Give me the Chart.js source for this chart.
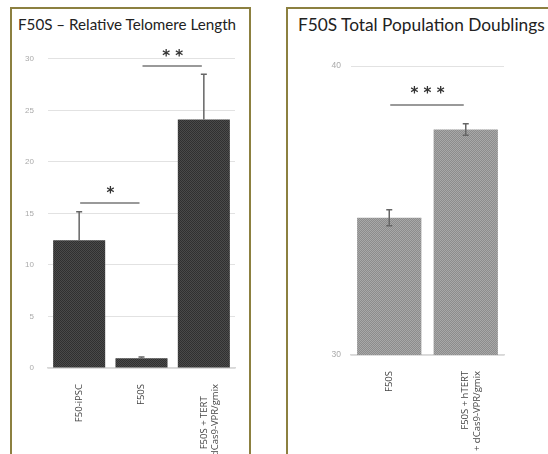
<!DOCTYPE html>
<html>
<head>
<meta charset="utf-8">
<script src="https://cdn.jsdelivr.net/npm/chart.js@4"></script>
<style>
  body { margin: 0; background: #fff; width: 548px; height: 454px; overflow: hidden; position: relative; font-family: Lato, "Open Sans", sans-serif; }
  .panel { position: absolute; border: 2px solid #8c8040; border-bottom: none; box-sizing: border-box; }
  .title { position: absolute; color: #222; white-space: nowrap; }
  canvas { position: absolute; }
</style>
</head>
<body>
<div class="panel" style="left:10px;top:7px;width:241px;height:460px;"></div>
<div class="panel" style="left:286px;top:7px;width:280px;height:460px;"></div>
<div class="title" style="left:18px;top:15px;font-size:15.2px;">F50S – Relative Telomere Length</div>
<div class="title" style="left:298px;top:14px;font-size:17.3px;">F50S Total Population Doublings</div>
<div style="position:absolute;left:12px;top:40px;width:236px;height:414px;"><canvas id="chart1"></canvas></div>
<div style="position:absolute;left:289px;top:40px;width:259px;height:414px;"><canvas id="chart2"></canvas></div>
<script>
// left chart: relative telomere length
const telLabels = ['F50-iPSC', 'F50S', ['F50S + TERT\u00a0\u00a0\u00a0\u00a0\u00a0', '+dCas9-VPR/gmix']];
const telValues = [12.4, 0.95, 24.1];
const telErrors = [2.75, 0.12, 4.4];
const telBrackets = [
    { from: 0, to: 1, y: 16.0, text: '*' },
    { from: 1, to: 2, y: 29.3, text: '**' }
];

// right chart: total population doublings
const pdLabels = ['F50S', ['F50S + hTERT', '+ dCas9-VPR/gmix']];
const pdValues = [34.75, 37.8];
const pdErrors = [0.28, 0.2];
const pdBrackets = [
    { from: 0, to: 1, y: 38.65, text: '***' }
];

function makePattern(c1, c2) {
    let p = document.createElement('canvas');
    p.width = 2; p.height = 2;
    let g = p.getContext('2d');
    g.fillStyle = c1; g.fillRect(0, 0, 2, 2);
    g.fillStyle = c2; g.fillRect(0, 0, 1, 1); g.fillRect(1, 1, 1, 1);
    return g.createPattern(p, 'repeat');
}

const extrasPlugin = {
    id: 'extras',
    afterDatasetsDraw(chart, args, opts) {
        let ctx = chart.ctx;
        let x = chart.scales.x, y = chart.scales.y;
        ctx.save();
        // error bars
        ctx.strokeStyle = '#666';
        ctx.lineWidth = 1.5;
        opts.errors.forEach((e, i) => {
            let v = chart.data.datasets[0].data[i];
            let cx = x.getPixelForValue(i);
            let top = y.getPixelForValue(v + e);
            let bot = y.getPixelForValue(opts.bothWays ? v - e : v);
            ctx.beginPath();
            ctx.moveTo(cx, top); ctx.lineTo(cx, bot);
            ctx.moveTo(cx - 3, top); ctx.lineTo(cx + 3, top);
            if (opts.bothWays) { ctx.moveTo(cx - 3, bot); ctx.lineTo(cx + 3, bot); }
            ctx.stroke();
        });
        // significance brackets
        opts.brackets.forEach(b => {
            let x1 = x.getPixelForValue(b.from), x2 = x.getPixelForValue(b.to);
            let yy = y.getPixelForValue(b.y);
            ctx.strokeStyle = '#777';
            ctx.lineWidth = 1.5;
            ctx.beginPath();
            ctx.moveTo(x1 + 1, yy); ctx.lineTo(x2 - 2, yy);
            ctx.stroke();
            ctx.fillStyle = '#333';
            ctx.font = 'bold 15px "DejaVu Sans"';
            ctx.textAlign = 'center';
            ctx.textBaseline = 'bottom';
            ctx.fillText(b.text.split('').join(' '), (x1 + x2) / 2, yy + opts.starOffset);
        });
        ctx.restore();
    }
};

function buildChart(id, labels, values, color, yOpts, layout, axisSizes, extras) {
    new Chart(document.getElementById(id), {
        type: 'bar',
        data: {
            labels: labels,
            datasets: [{ data: values, backgroundColor: color, categoryPercentage: 1, barPercentage: axisSizes.bar }]
        },
        options: {
            responsive: true,
            maintainAspectRatio: false,
            animation: false,
            layout: { padding: layout },
            plugins: { legend: { display: false }, tooltip: { enabled: false }, extras: extras },
            scales: {
                x: {
                    grid: { display: false },
                    border: { color: '#d8d8d8', width: 1.5 },
                    ticks: { color: '#444', font: { family: '"Open Sans"', size: 9.5 }, minRotation: 90, maxRotation: 90, padding: 8 },
                    afterFit: s => { s.height = axisSizes.h; }
                },
                y: Object.assign({
                    border: { display: false },
                    grid: { color: '#e2e2e2', drawTicks: false, lineWidth: 1 },
                    afterFit: s => { s.width = axisSizes.w; }
                }, yOpts)
            }
        },
        plugins: [extrasPlugin]
    });
}

buildChart('chart1', telLabels, telValues, makePattern('#4a4a4a', '#303030'),
    { min: 0, max: 30, ticks: { stepSize: 5, color: '#aaa', font: { size: 8 }, padding: 14 } },
    { top: 18, right: 13, left: 0, bottom: 0 },
    { h: 86, w: 36, bar: 0.835 },
    { errors: telErrors, brackets: telBrackets, bothWays: false, starOffset: -1 });

buildChart('chart2', pdLabels, pdValues, makePattern('#a8a8a8', '#8c8c8c'),
    { min: 30, max: 40, ticks: { stepSize: 10, color: '#aaa', font: { size: 8.5 }, padding: 10 } },
    { top: 26, right: 44, left: 0, bottom: 0 },
    { h: 99, w: 62, bar: 0.84 },
    { errors: pdErrors, brackets: pdBrackets, bothWays: true, starOffset: -3 });
</script>
</body>
</html>
